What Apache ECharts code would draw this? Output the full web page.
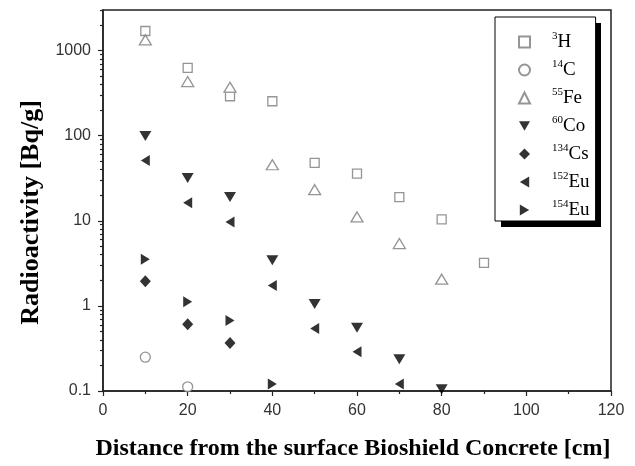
<!DOCTYPE html>
<html>
<head>
<meta charset="utf-8">
<script src="https://cdn.jsdelivr.net/npm/echarts@6/dist/echarts.min.js"></script>
<style>
  html, body { margin: 0; padding: 0; background: #fff; }
  #chart { width: 635px; height: 466px; }
</style>
</head>
<body>
<div id="chart"></div>
<script>
// depth in concrete [cm]
const depth = [10, 20, 30, 40, 50, 60, 70, 80, 90];
// activities [Bq/g]
const h3 = [1700, 627, 291, 254, 48, 35.8, 19, 10.4, 3.2];
const c14 = [0.25, 0.112];
const fe55 = [1336, 433, 371, 45.6, 23.2, 11.1, 5.4, 2.06];
const co60 = [99, 31.8, 19, 3.44, 1.05, 0.553, 0.236, 0.105];
const cs134 = [1.95, 0.61, 0.366];
const eu152 = [51, 16.3, 9.7, 1.74, 0.543, 0.289, 0.121];
const eu154 = [3.54, 1.12, 0.675, 0.121];

const xTicks = [0, 20, 40, 60, 80, 100, 120];
const yTickLabels = [0.1, 1, 10, 100, 1000];
const yMax = 3000;

// minor ticks 2..9 per decade
const yMinor = [];
yTickLabels.forEach(function (d) {
  for (let k = 2; k <= 9; k++) {
    if (d * k <= yMax) yMinor.push(+(d * k).toPrecision(3));
  }
});

const serif = '"Liberation Serif", "Times New Roman", serif';
const sans = '"Liberation Sans", Arial, sans-serif';
const hollow = { color: '#fff', borderColor: '#7a7a7a', borderWidth: 1.3 };
const solid = { color: '#000' };

// triangle shapes (path so the legend shows the same orientation)
const triDown = 'path://M0,0L2,0L1,1.7Z';
const triLeft = 'path://M1.7,0L1.7,2L0,1Z';
const triRight = 'path://M0,0L1.7,1L0,2Z';

function pts(vals) {
  return vals.map(function (v, i) { return [depth[i], v]; });
}

const chart = echarts.init(document.getElementById('chart'), null, { renderer: 'canvas' });

const option = {
  animation: false,
  backgroundColor: '#fff',
  grid: {
    left: 103, top: 10, right: 24, bottom: 75,
    show: true, borderColor: '#222', borderWidth: 1.5, backgroundColor: 'transparent'
  },
  // legend drop shadow
  graphic: [{
    type: 'rect', left: 501, top: 23, z: 1,
    shape: { width: 100, height: 204 },
    style: { fill: '#000' }
  }],
  legend: {
    orient: 'vertical',
    left: 495, top: 17, z: 5,
    padding: [14, 6, 0, 23],
    itemWidth: 11, itemHeight: 11, itemGap: 6,
    backgroundColor: '#fff',
    borderColor: '#000', borderWidth: 1,
    formatter: function (name) {
      const m = name.match(/^(\d+)(\D+)$/);
      return '{sup|' + m[1] + '}{el|' + m[2] + '}';
    },
    textStyle: {
      padding: [0, 0, 0, 17],
      lineHeight: 22,
      rich: {
        sup: { fontFamily: serif, fontSize: 11, color: '#000', verticalAlign: 'top', lineHeight: 22 },
        el: { fontFamily: serif, fontSize: 19, color: '#000', lineHeight: 22 }
      }
    }
  },
  xAxis: {
    type: 'value', min: 0, max: 120, interval: 20,
    name: 'Distance from the surface Bioshield Concrete [cm]',
    nameLocation: 'middle', nameGap: 46,
    nameTextStyle: { fontFamily: serif, fontSize: 24, fontWeight: 'bold', color: '#000', padding: [0, 8, 0, 0] },
    axisLine: { lineStyle: { color: '#222', width: 1.5 } },
    axisTick: { inside: false, length: 5, lineStyle: { color: '#222', width: 1.2 } },
    minorTick: { show: true, splitNumber: 2, length: 3, lineStyle: { color: '#222', width: 1.2 } },
    axisLabel: { fontFamily: sans, fontSize: 16, color: '#333', margin: 12, customValues: xTicks },
    splitLine: { show: false }
  },
  yAxis: [
    {
      type: 'log', min: 0.1, max: yMax, position: 'left',
      name: 'Radioactivity [Bq/g]',
      nameLocation: 'middle', nameGap: 58,
      nameTextStyle: { fontFamily: serif, fontSize: 26, fontWeight: 'bold', color: '#000', padding: [0, 24, 0, 0] },
      axisLine: { show: true, lineStyle: { color: '#222', width: 1.5 } },
      axisTick: { show: true, length: 5, customValues: yTickLabels, lineStyle: { color: '#222', width: 1.2 } },
      axisLabel: {
        fontFamily: sans, fontSize: 16, color: '#333', margin: 12, customValues: yTickLabels,
        formatter: function (v) { return String(v); }
      },
      splitLine: { show: false }
    },
    {
      type: 'log', min: 0.1, max: yMax, position: 'left', offset: 0,
      axisLine: { show: false },
      axisTick: { show: true, length: 3, customValues: yMinor, lineStyle: { color: '#222', width: 1.2 } },
      axisLabel: { show: false },
      splitLine: { show: false }
    }
  ],
  series: [
    { name: '3H', type: 'scatter', symbol: 'rect', symbolSize: 9, itemStyle: hollow, data: pts(h3) },
    { name: '14C', type: 'scatter', symbol: 'circle', symbolSize: 10, itemStyle: hollow, data: pts(c14) },
    { name: '55Fe', type: 'scatter', symbol: 'triangle', symbolSize: [12, 10], itemStyle: hollow, data: pts(fe55) },
    { name: '60Co', type: 'scatter', symbol: triDown, symbolSize: [12, 10], itemStyle: solid, data: pts(co60) },
    { name: '134Cs', type: 'scatter', symbol: 'diamond', symbolSize: [11, 12], itemStyle: solid, data: pts(cs134) },
    { name: '152Eu', type: 'scatter', symbol: triLeft, symbolSize: [9, 11], itemStyle: solid, data: pts(eu152) },
    { name: '154Eu', type: 'scatter', symbol: triRight, symbolSize: [9, 11], itemStyle: solid, data: pts(eu154) }
  ]
};

chart.setOption(option);
</script>
</body>
</html>
